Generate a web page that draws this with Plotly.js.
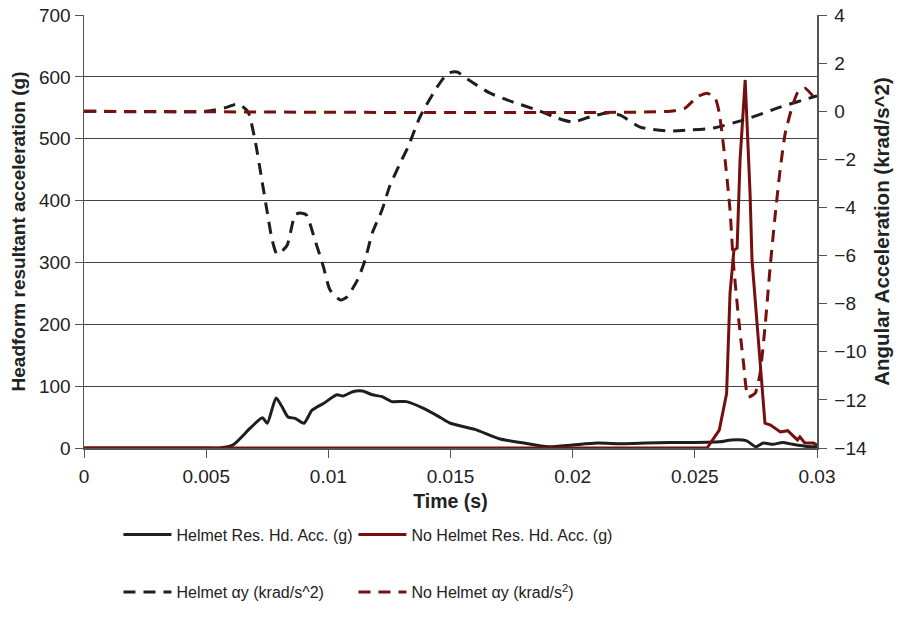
<!DOCTYPE html>
<html>
<head>
<meta charset="utf-8">
<script src="https://cdn.plot.ly/plotly-3.0.1.min.js"></script>
<style>html,body{margin:0;padding:0;background:#fff;}#chart{width:900px;height:617px;}</style>
</head>
<body>
<div id="chart"></div>
<script>
// Helmet resultant head acceleration (g)
const helmetAccT = [0, 0.0050, 0.00557, 0.0061, 0.0068, 0.0073, 0.0075, 0.00786, 0.0081, 0.00835, 0.00864, 0.0090, 0.00933, 0.0098, 0.01035, 0.0106, 0.0110, 0.0114, 0.0118, 0.0122, 0.0126, 0.0132, 0.0139, 0.0146, 0.0150, 0.0160, 0.0170, 0.0180, 0.0190, 0.0200, 0.0210, 0.0220, 0.0230, 0.0240, 0.0250, 0.0260, 0.0265, 0.0271, 0.0275, 0.0278, 0.0282, 0.0286, 0.0290, 0.0295, 0.0300];
const helmetAccG = [0, 0, 0, 5, 32, 49, 40, 81, 67, 50, 48, 40, 61, 72, 86, 84, 91, 92, 86, 83, 75, 75, 64, 49, 40, 30, 15, 8, 2, 5, 8, 7, 8, 9, 9, 10, 13, 12, 2, 8, 6, 9, 6, 3, 2];

// No helmet resultant head acceleration (g)
const noHelmetAccT = [0, 0.0250, 0.0255, 0.0260, 0.0263, 0.02644, 0.0266, 0.02673, 0.02685, 0.02706, 0.02726, 0.02734, 0.0277, 0.02787, 0.0281, 0.0285, 0.0288, 0.0292, 0.0293, 0.0295, 0.02985, 0.0300];
const noHelmetAccG = [0, 0, 0, 29, 88, 250, 320, 323, 465, 595, 412, 304, 126, 40, 37, 26, 28, 13, 18, 8, 8, 5];

// Helmet angular acceleration (krad/s^2)
const helmetAlphaT = [0, 0.0050, 0.0058, 0.0063, 0.0067, 0.0070, 0.00728, 0.0075, 0.0077, 0.0079, 0.0083, 0.00864, 0.00884, 0.0091, 0.00945, 0.0098, 0.01007, 0.0105, 0.01076, 0.0112, 0.0115, 0.0118, 0.0122, 0.0125, 0.0129, 0.01326, 0.01375, 0.01445, 0.0149, 0.01527, 0.01568, 0.0166, 0.01756, 0.01854, 0.01936, 0.02001, 0.0207, 0.0214, 0.02194, 0.02276, 0.02386, 0.0248, 0.02575, 0.02714, 0.02849, 0.02984, 0.0300];
const helmetAlpha = [0, 0, 0.15, 0.3, 0.0, -1.2, -2.86, -4.2, -5.35, -5.94, -5.6, -4.31, -4.23, -4.31, -5.35, -6.47, -7.43, -7.85, -7.72, -7.0, -6.2, -5.06, -4.1, -3.15, -2.24, -1.49, -0.24, 1.0, 1.58, 1.63, 1.34, 0.76, 0.38, 0.05, -0.28, -0.45, -0.24, -0.07, -0.16, -0.66, -0.82, -0.78, -0.7, -0.32, 0.17, 0.59, 0.63];

// No helmet angular acceleration (krad/s^2)
const noHelmetAlphaT = [0, 0.0240, 0.0246, 0.0251, 0.0255, 0.02583, 0.0260, 0.02624, 0.02644, 0.02657, 0.02677, 0.02698, 0.02718, 0.02747, 0.02767, 0.02787, 0.02808, 0.02828, 0.02849, 0.0287, 0.02898, 0.02922, 0.0295, 0.0298, 0.0300];
const noHelmetAlpha = [0, 0, 0.13, 0.6, 0.75, 0.55, -0.07, -2.03, -4.1, -6.2, -8.4, -10.35, -11.88, -11.72, -10.9, -9.0, -6.5, -4.4, -2.44, -0.91, 0.17, 0.8, 0.96, 0.67, 0.38];

const xTickVals = [0, 0.005, 0.01, 0.015, 0.02, 0.025, 0.03];
const xTickText = ['0', '0.005', '0.01', '0.015', '0.02', '0.025', '0.03'];
const leftTickVals = [0, 100, 200, 300, 400, 500, 600, 700];
const rightTickVals = [-14, -12, -10, -8, -6, -4, -2, 0, 2, 4];

const names = ['Helmet Res. Hd. Acc. (g)', 'No Helmet Res. Hd. Acc. (g)', 'Helmet \u03b1y (krad/s^2)', 'No Helmet \u03b1y (krad/s<sup>2</sup>)'];

const BLACK = '#1e1e1e';
const RED = '#76100f';
const DASH = '12px,8px';

const traces = [
  {x: helmetAlphaT, y: helmetAlpha, yaxis: 'y2', name: names[2], mode: 'lines', legend: 'legend3',
   line: {color: BLACK, width: 3, dash: DASH, shape: 'spline', smoothing: 0.6}},
  {x: noHelmetAlphaT, y: noHelmetAlpha, yaxis: 'y2', name: names[3], mode: 'lines', legend: 'legend4',
   line: {color: RED, width: 3, dash: DASH, shape: 'spline', smoothing: 0.5}},
  {x: helmetAccT, y: helmetAccG, name: names[0], mode: 'lines', legend: 'legend',
   line: {color: BLACK, width: 3, shape: 'spline', smoothing: 0.6}},
  {x: noHelmetAccT, y: noHelmetAccG, name: names[1], mode: 'lines', legend: 'legend2',
   line: {color: RED, width: 3}}
];

const FONT = 'Liberation Sans, Arial, sans-serif';
const TXT = '#222';
function leg(x, y) {
  return {orientation: 'h', x: x, xanchor: 'left', y: y, yanchor: 'middle', itemwidth: 48,
    font: {size: 16, family: FONT, color: TXT}, bgcolor: 'rgba(0,0,0,0)'};
}
const layout = {
  width: 900, height: 617,
  margin: {l: 84, r: 83, t: 15, b: 169, autoexpand: false},
  paper_bgcolor: '#fff', plot_bgcolor: '#fff',
  font: {family: FONT, size: 18, color: TXT},
  showlegend: true,
  xaxis: {
    range: [0, 0.03], tickvals: xTickVals, ticktext: xTickText,
    showline: true, linecolor: '#555', linewidth: 1.5,
    ticks: 'outside', ticklen: 8, tickcolor: '#555', ticklabelstandoff: 3,
    showgrid: false, zeroline: false,
    tickfont: {size: 19, family: FONT, color: TXT},
    title: {text: '<b>Time (s)</b>', font: {size: 19.5, family: FONT, color: TXT}, standoff: 8}
  },
  yaxis: {
    range: [0, 700], tickvals: leftTickVals,
    showline: true, linecolor: '#555', linewidth: 1.5,
    ticks: 'outside', ticklen: 8, tickcolor: '#555',
    showgrid: true, gridcolor: '#444', gridwidth: 1,
    zeroline: false,
    tickfont: {size: 19, family: FONT, color: TXT},
    title: {text: '<b>Headform resultant acceleration (g)</b>', font: {size: 19, family: FONT, color: TXT}, standoff: 8}
  },
  yaxis2: {
    range: [-14, 4], tickvals: rightTickVals, overlaying: 'y', side: 'right',
    showline: true, linecolor: '#555', linewidth: 1.5,
    ticks: 'outside', ticklen: 8, tickcolor: '#555', ticklabelstandoff: 4,
    showgrid: false, zeroline: false,
    tickfont: {size: 19, family: FONT, color: TXT},
    title: {text: '<b>Angular Acceleration (krad/s^2)</b>', font: {size: 20.5, family: FONT, color: TXT}, standoff: 8}
  },
  legend: leg(0.047, -0.2),
  legend2: leg(0.3676, -0.2),
  legend3: leg(0.047, -0.333),
  legend4: leg(0.3676, -0.333)
};

Plotly.newPlot('chart', traces, layout, {displayModeBar: false, staticPlot: true});
</script>
</body>
</html>
